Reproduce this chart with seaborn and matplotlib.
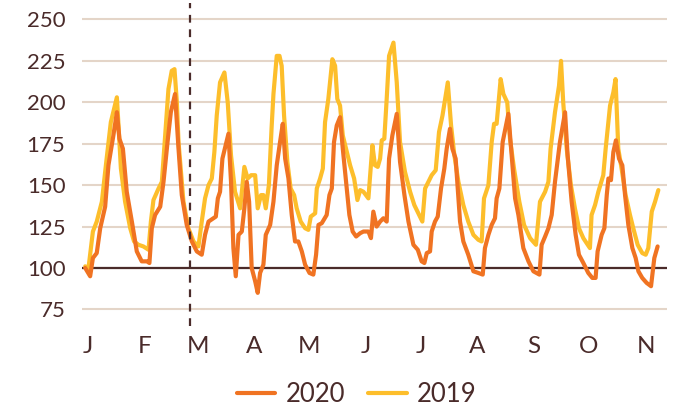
import pandas as pd
import seaborn as sns
import matplotlib.pyplot as plt
from matplotlib.lines import Line2D

days_2020 = [12.6, 15.3, 16.8, 18.9, 20.8, 23.5, 25.3, 28.0, 29.9, 31.3, 33.2, 35.3, 38.1, 40.8, 43.5,
             46.3, 47.7, 49.0, 50.8, 53.6, 55.4, 57.6, 59.4, 61.7, 63.6, 65.4, 68.1, 70.9, 73.6, 76.3,
             78.1, 80.0, 82.7, 84.0, 85.1, 86.3, 87.6, 90.9, 92.3, 93.6, 94.9, 96.4, 98.2, 99.6, 100.9,
             102.2, 103.6, 105.5, 106.9, 108.2, 110.0, 111.3, 113.7, 115.5, 117.3, 119.1, 120.6, 121.9,
             123.7, 125.5, 127.3, 129.1, 131.0, 132.8, 135.2, 137.3, 138.8, 140.1, 141.9, 144.6, 146.1,
             147.4, 148.6, 150.1, 151.9, 153.4, 155.2, 157.0, 158.8, 160.7, 162.9, 164.7, 167.4, 168.8,
             170.1, 171.9, 173.8, 175.6, 177.4, 178.7, 180.5, 182.9, 184.7, 187.1, 189.3, 192.0, 194.4,
             196.5, 198.0, 199.3, 201.1, 202.0, 203.8, 205.3, 207.1, 208.9, 210.2, 212.0, 213.3, 215.1,
             217.5, 219.3, 222.0, 224.8, 227.5, 229.9, 231.1, 233.0, 234.8, 236.6, 237.5, 239.0, 240.8,
             243.9, 245.7, 247.6, 249.4, 252.1, 254.9, 257.6, 260.9, 262.1, 264.0, 265.8, 267.6, 269.4,
             272.1, 274.9, 276.3, 278.5, 280.7, 282.5, 284.9, 287.6, 289.8, 291.6, 292.7, 294.9, 296.4,
             297.7, 298.6, 300.0, 301.3, 302.7, 304.4, 306.2, 307.7, 309.5, 311.7, 313.5, 315.0, 317.1,
             319.5, 321.9, 323.7, 325.5]
vals_2020 = [100, 95, 106, 109, 124, 137, 162, 180, 194, 178, 172, 146, 128, 110, 104,
             104, 103, 124, 132, 137, 152, 176, 194, 205, 172, 144, 126, 116, 110, 108,
             120, 128, 130, 131, 142, 146, 166, 181, 152, 112, 95, 120, 122, 136, 152,
             140, 100, 92, 85, 97, 102, 120, 126, 140, 162, 176, 187, 166,
             154, 132, 116, 116, 110, 102, 97, 96, 108, 126, 127, 132, 144,
             148, 176, 186, 191, 172, 152, 132, 122, 119, 121, 122, 122, 118,
             134, 125, 128, 130, 128, 166, 180, 193, 164, 144, 128, 114, 111,
             104, 103, 109, 110, 122, 128, 131, 148, 160, 172, 184, 172, 166,
             128, 116, 108, 98, 97, 96, 112, 120, 126, 130, 142, 148, 176,
             193, 168, 142, 132, 112, 104, 98, 96, 114, 119, 124, 132, 152,
             176, 194, 168, 140, 120, 108, 103, 97, 94, 94, 110, 120, 124,
             144, 154, 153, 170, 177, 166, 162, 144, 126, 112, 106, 98, 94,
             91, 89, 106, 113]

days_2019 = [12.6, 14.4, 16.8, 18.9, 21.7, 24.1, 26.6, 29.9, 30.8, 32.1, 34.4, 37.2, 39.3, 41.7, 44.4,
             47.2, 48.5, 49.9, 52.7, 54.5, 56.3, 58.1, 59.9, 61.4, 62.7, 63.6, 66.3, 69.0, 71.8, 74.5,
             76.3, 78.1, 80.0, 81.8, 83.2, 84.5, 86.3, 88.7, 90.5, 92.3, 94.5, 97.3, 99.6, 101.4, 103.3,
             105.5, 106.9, 108.7, 110.0, 111.3, 113.0, 114.5, 115.5, 117.3, 118.8, 120.0, 121.3, 123.1,
             124.9, 126.8, 128.2, 130.4, 132.8, 134.6, 135.9, 138.3, 139.2, 141.0, 142.5, 143.7, 145.5,
             147.7, 149.2, 150.4, 151.9, 153.4, 155.2, 157.4, 159.6, 161.4, 162.9, 164.7, 167.4, 169.6,
             171.0, 172.5, 173.8, 174.7, 176.1, 177.4, 178.7, 181.1, 182.9, 184.7, 187.4, 190.2, 192.5,
             194.7, 196.9, 198.4, 200.2, 202.0, 204.2, 206.0, 207.9, 210.8, 212.6, 214.4, 216.6, 219.3,
             222.0, 224.8, 227.5, 229.3, 230.6, 233.0, 234.8, 236.1, 237.5, 239.7, 241.2, 243.3, 244.8,
             247.0, 249.9, 252.5, 255.8, 259.0, 261.2, 264.0, 265.8, 267.0, 269.4, 271.6, 272.7, 273.9,
             275.8, 278.1, 280.3, 282.5, 284.9, 286.7, 288.5, 289.4, 291.3, 293.1, 295.8, 297.1, 299.5,
             301.3, 302.5, 304.0, 305.8, 308.0, 310.4, 312.2, 314.6, 317.1, 319.0, 320.4, 322.3, 324.1,
             325.9]
vals_2019 = [101, 100, 122, 128, 140, 164, 188, 203, 186, 160, 140, 124, 116, 114, 113,
             111, 128, 141, 148, 152, 180, 208, 219, 220, 200, 176, 140, 124, 116, 113,
             128, 142, 150, 154, 170, 192, 212, 218, 200, 168, 146, 136, 161, 154, 156,
             156, 136, 144, 144, 136, 150, 185, 205, 228, 228, 222, 192, 164,
             148, 144, 136, 128, 124, 123, 131, 133, 148, 154, 160, 188, 202,
             226, 222, 202, 198, 180, 172, 162, 154, 141, 147, 146, 142, 174,
             162, 161, 166, 177, 178, 202, 228, 236, 212, 176, 158, 146, 138,
             133, 128, 148, 152, 156, 159, 182, 192, 212, 186, 168, 152, 138,
             128, 120, 117, 116, 142, 150, 176, 187, 187, 214, 205, 200, 178,
             160, 140, 126, 118, 114, 140, 146, 152, 172, 194, 210, 225, 200,
             172, 150, 136, 124, 118, 115, 112, 132, 138, 146, 156, 172, 198,
             206, 214, 172, 160, 144, 132, 124, 114, 109, 108, 112, 134, 140,
             147]

y_ticks = [75, 100, 125, 150, 175, 200, 225, 250]
month_labels = ["J", "F", "M", "A", "M", "J", "J", "A", "S", "O", "N"]

orange = "#f07322"
yellow = "#fdbe2b"
brown = "#4a2b2a"
grid_col = "#e4d5c8"

start = pd.Timestamp("2020-01-01")
df20 = pd.DataFrame({"date": start + pd.to_timedelta(days_2020, unit="D"), "value": vals_2020})
df19 = pd.DataFrame({"date": start + pd.to_timedelta(days_2019, unit="D"), "value": vals_2019})

sns.set_style("white")
plt.rcParams["font.family"] = ["Lato", "DejaVu Sans"]

fig = plt.figure(figsize=(6.73, 4.09), dpi=100)
ax = fig.add_axes([0.122, 0.203, 0.869, 0.790])

for v in y_ticks:
    ax.axhline(v, color=grid_col, lw=1.5, zorder=0)
ax.axhline(100, color=brown, lw=1.6, zorder=1)

sns.lineplot(data=df19, x="date", y="value", color=yellow, lw=3, ax=ax, zorder=3)
sns.lineplot(data=df20, x="date", y="value", color=orange, lw=3, ax=ax, zorder=4)

ax.axvline(pd.Timestamp("2020-03-11"), color=brown, lw=1.6, ls=(0, (3.5, 3)), zorder=5)

ax.set_xlim(start + pd.Timedelta(days=10.9), start + pd.Timedelta(days=330.6))
ax.set_ylim(65, 260)

month_starts = pd.date_range("2020-02-01", "2020-11-01", freq="MS")
month_mids = pd.date_range("2020-01-01", "2020-11-01", freq="MS") + pd.Timedelta(days=14)
ax.set_xticks(month_starts)
ax.set_xticklabels([])
ax.set_xticks(month_mids, minor=True)
ax.set_xticklabels(month_labels, minor=True)
ax.tick_params(axis="x", which="major", length=3, width=1, color="#9a8a84", direction="out")
ax.tick_params(axis="x", which="minor", length=0, pad=7, labelsize=17.5, labelcolor=brown)

ax.set_yticks(y_ticks)
ax.set_yticklabels([str(v) for v in y_ticks])
ax.tick_params(axis="y", length=0, pad=12, labelsize=16, labelcolor=brown)

ax.set_xlabel("")
ax.set_ylabel("")
for s in ax.spines.values():
    s.set_visible(False)

handles = [Line2D([], [], color=orange, lw=3), Line2D([], [], color=yellow, lw=3)]
fig.legend(handles, ["2020", "2019"], loc="center", bbox_to_anchor=(0.53, 0.035), ncol=2,
           frameon=False, fontsize=18.5, labelcolor=brown, handlelength=1.5,
           handletextpad=0.4, columnspacing=0.9)

fig.savefig("out.png", dpi=100)
